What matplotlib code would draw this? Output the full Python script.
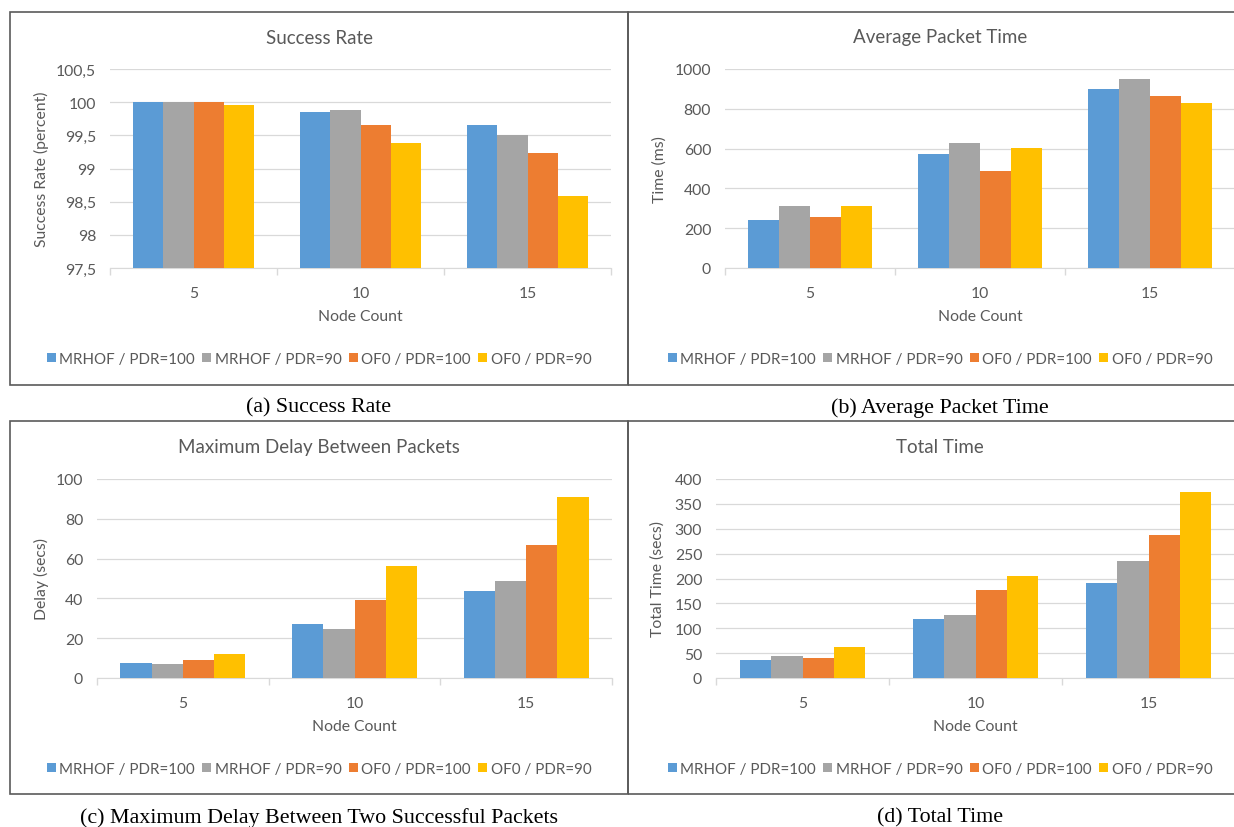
import numpy as np
import matplotlib.pyplot as plt
from matplotlib.patches import Rectangle, Patch

# node counts on the x axis and the four protocol / PDR setups
nodes = ['5', '10', '15']
series = ['MRHOF / PDR=100', 'MRHOF / PDR=90', 'OF0 / PDR=100', 'OF0 / PDR=90']
colors = ['#5B9BD5', '#A5A5A5', '#ED7D31', '#FFC000']

# (a) success rate, percent
success_mrhof100 = [100.0, 99.85, 99.65]
success_mrhof90 = [100.0, 99.88, 99.50]
success_of0100 = [100.0, 99.65, 99.23]
success_of090 = [99.96, 99.38, 98.58]

# (b) average packet time, ms
apt_mrhof100 = [239, 574, 899]
apt_mrhof90 = [313, 628, 951]
apt_of0100 = [258, 488, 864]
apt_of090 = [310, 604, 830]

# (c) max delay between two successful packets, secs
delay_mrhof100 = [7.6, 27.2, 43.5]
delay_mrhof90 = [6.9, 24.4, 48.6]
delay_of0100 = [9.1, 39.3, 66.9]
delay_of090 = [11.9, 56.1, 90.8]

# (d) total time, secs
total_mrhof100 = [35.6, 117.6, 190.3]
total_mrhof90 = [43.7, 126.4, 235.3]
total_of0100 = [41, 176, 288.4]
total_of090 = [62.5, 204.4, 374.5]

W, H = 1234, 828
TXT = '#595959'
GRID = '#D9D9D9'
SANS = ['Lato', 'DejaVu Sans']
SERIF = ['Liberation Serif', 'DejaVu Serif']

fig = plt.figure(figsize=(W / 100, H / 100), dpi=100)


def px_axes(x0, x1, y0, y1):
  # pixel box (top-left origin) -> figure axes
  return fig.add_axes([x0 / W, 1 - y1 / H, (x1 - x0) / W, (y1 - y0) / H])


def fx(x):
  return x / W


def fy(y):
  return 1 - y / H


def bar_panel(box, data, ylim, yticks, ylabel, title, ylab_x, fmt, chart_cx):
  x0, x1, y0, y1 = box
  ax = px_axes(x0, x1, y0, y1)
  n = len(data)
  w = 0.182
  x = np.arange(len(nodes))
  for i, vals in enumerate(data):
    ax.bar(x + (i - (n - 1) / 2) * w, vals, w, color=colors[i], zorder=3)
  ax.set_xlim(-0.5, len(nodes) - 0.5)
  ax.set_ylim(*ylim)
  ax.set_yticks(yticks)
  ax.set_yticklabels([fmt(v) for v in yticks], fontsize=11.3, color=TXT, family=SANS)
  ax.set_xticks(x)
  ax.set_xticklabels(nodes, fontsize=11.3, color=TXT, family=SANS)
  ax.set_xticks(np.arange(len(nodes) + 1) - 0.5, minor=True)
  ax.tick_params(axis='x', which='major', length=0, pad=13)
  ax.tick_params(axis='x', which='minor', length=5, color=GRID, width=1)
  ax.tick_params(axis='y', length=0, pad=10)
  for s in ['top', 'right', 'left']:
    ax.spines[s].set_visible(False)
  ax.spines['bottom'].set_color(GRID)
  ax.grid(axis='y', color=GRID, lw=0.9, zorder=0)
  ax.set_axisbelow(True)
  # labels placed in figure pixels
  fig.text(fx(ylab_x), fy((y0 + y1) / 2), ylabel, rotation=90, ha='center', va='center',
           fontsize=11.3, color=TXT, family=SANS)
  fig.text(fx(chart_cx), fy(y0 - 32), title, ha='center', va='center',
           fontsize=13.5, color=TXT, family=SANS)
  fig.text(fx((x0 + x1) / 2), fy(y1 + 48), 'Node Count', ha='center', va='center',
           fontsize=11.3, color=TXT, family=SANS)
  handles = [Patch(facecolor=c, edgecolor='none') for c in colors]
  fig.legend(handles, series, loc='center', bbox_to_anchor=(fx(chart_cx), fy(y1 + 91)),
             ncol=4, frameon=False, handlelength=0.6, handleheight=0.6,
             handletextpad=0.25, columnspacing=0.45,
             prop={'family': SANS, 'size': 10.9}, labelcolor=TXT)
  return ax


def comma(v):
  s = ('%g' % v)
  return s.replace('.', ',')


def plain(v):
  return '%d' % v


bar_panel((110, 611, 70, 269),
          [success_mrhof100, success_mrhof90, success_of0100, success_of090],
          (97.5, 100.5), np.arange(97.5, 100.51, 0.5), 'Success Rate (percent)',
          'Success Rate', 41, comma, 319)
bar_panel((725, 1235, 70, 269),
          [apt_mrhof100, apt_mrhof90, apt_of0100, apt_of090],
          (0, 1000), np.arange(0, 1001, 200), 'Time (ms)',
          'Average Packet Time', 660, plain, 940)
bar_panel((97, 612, 480, 679),
          [delay_mrhof100, delay_mrhof90, delay_of0100, delay_of090],
          (0, 100), np.arange(0, 101, 20), 'Delay (secs)',
          'Maximum Delay Between Packets', 41, plain, 319)
bar_panel((716, 1235, 480, 679),
          [total_mrhof100, total_mrhof90, total_of0100, total_of090],
          (0, 400), np.arange(0, 401, 50), 'Total Time (secs)',
          'Total Time', 658, plain, 940)

# chart frames
for (x0, x1, y0, y1) in [(10, 628, 13, 386), (628, 1260, 13, 386),
                         (10, 628, 422, 795), (628, 1260, 422, 795)]:
  fig.add_artist(Rectangle((fx(x0), fy(y1)), (x1 - x0) / W, (y1 - y0) / H,
                           transform=fig.transFigure, fill=False,
                           edgecolor='#5A5A5A', lw=1.2))

# sub-figure captions
fig.text(fx(319), fy(408), '(a) Success Rate', ha='center', va='center', fontsize=15.8, family=SERIF)
fig.text(fx(940), fy(408), '(b) Average Packet Time', ha='center', va='center', fontsize=15.8, family=SERIF)
fig.text(fx(319), fy(818), '(c) Maximum Delay Between Two Successful Packets', ha='center',
         va='center', fontsize=15.8, family=SERIF)
fig.text(fx(940), fy(818), '(d) Total Time', ha='center', va='center', fontsize=15.8, family=SERIF)

fig.savefig('out.png', dpi=100)
